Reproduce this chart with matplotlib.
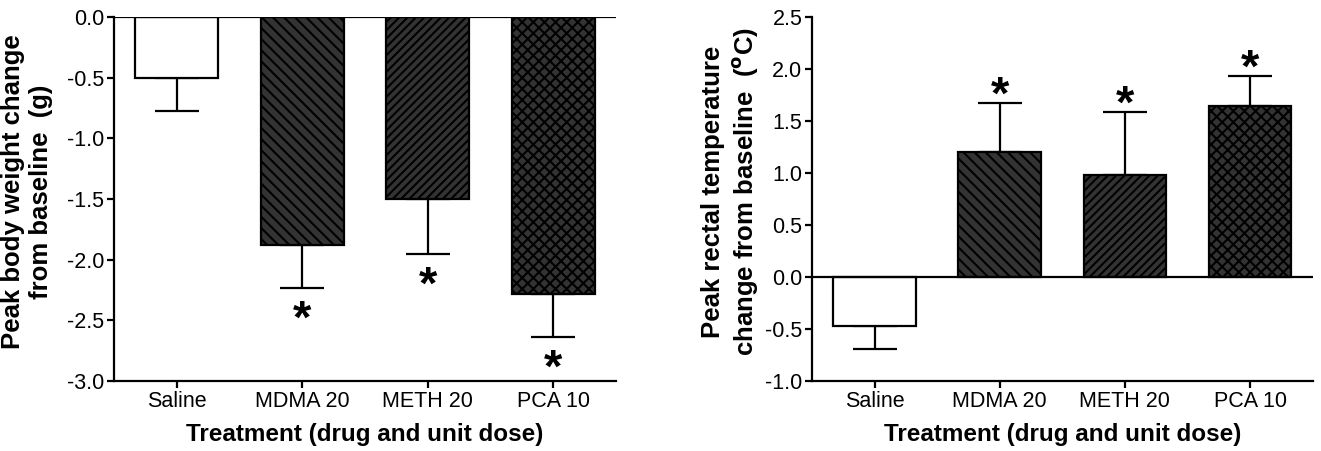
import matplotlib
matplotlib.use('Agg')
import matplotlib.pyplot as plt
import numpy as np

plt.rcParams['font.family'] = ['Liberation Sans', 'DejaVu Sans']
plt.rcParams['hatch.linewidth'] = 1.5
plt.rcParams['hatch.color'] = 'black'

groups = ['Saline', 'MDMA 20', 'METH 20', 'PCA 10']
hatches = ['', '\\\\\\', '////', 'xxx']
fills = ['white', '#333333', '#333333', '#333333']

# body weight change (g)
weight_mean = [-0.50, -1.88, -1.50, -2.28]
weight_sem = [0.27, 0.35, 0.45, 0.36]
weight_sig = [False, True, True, True]

# rectal temperature change (C)
temp_mean = [-0.47, 1.20, 0.98, 1.65]
temp_sem = [0.22, 0.47, 0.61, 0.28]
temp_sig = [False, True, True, True]

fig = plt.figure(figsize=(13.21, 4.51), dpi=100)
ax1 = fig.add_axes([0.0863, 0.155, 0.380, 0.807])
ax2 = fig.add_axes([0.6147, 0.155, 0.379, 0.807])

x = np.arange(len(groups))

def draw(ax, means, sems, sig, ylim, ylabel, star_off, label_x):
    for i in range(len(groups)):
        ax.bar(x[i], means[i], width=0.66, color=fills[i], hatch=hatches[i],
               edgecolor='black', linewidth=1.6, zorder=2)
        # one-sided error bar away from zero
        if means[i] > 0:
            yerr = [[0], [sems[i]]]
            end = means[i] + sems[i]
        else:
            yerr = [[sems[i]], [0]]
            end = means[i] - sems[i]
        ax.errorbar(x[i], means[i], yerr=yerr, fmt='none', ecolor='black',
                    elinewidth=1.6, capsize=16, capthick=1.6, zorder=1)
        if sig[i]:
            if means[i] > 0:
                ax.text(x[i], end + star_off[0], '*', ha='center', va='center',
                        fontsize=34, fontweight='bold')
            else:
                ax.text(x[i], end - star_off[1], '*', ha='center', va='center',
                        fontsize=34, fontweight='bold')
    ax.axhline(0, color='black', lw=1.6, zorder=3)
    ax.set_xlim(-0.5, 3.5)
    ax.set_ylim(*ylim)
    ticks = np.arange(ylim[0], ylim[1] + 0.01, 0.5)
    ax.set_yticks(ticks)
    ax.set_yticklabels(['%.1f' % v for v in ticks])
    ax.set_xticks(x)
    ax.set_xticklabels(groups)
    for s in ['top', 'right']:
        ax.spines[s].set_visible(False)
    for s in ['left', 'bottom']:
        ax.spines[s].set_linewidth(1.6)
    ax.tick_params(width=1.6, length=5, labelsize=15.5, pad=2)
    ax.set_xlabel('Treatment (drug and unit dose)', fontsize=17.5, fontweight='bold')
    ax.xaxis.set_label_coords(0.5, -0.115)
    ax.set_ylabel(ylabel, fontsize=18.5, fontweight='bold')
    ax.yaxis.set_label_coords(label_x, 0.52)

draw(ax1, weight_mean, weight_sem, weight_sig, (-3.0, 0.0),
     'Peak body weight change\nfrom baseline  (g)', (0.06, 0.27), -0.122)
draw(ax2, temp_mean, temp_sem, temp_sig, (-1.0, 2.5),
     'Peak rectal temperature\nchange from baseline  ($\\mathbf{^{o}}$C)', (0.06, 0.27), -0.104)

fig.savefig('out.png', dpi=100)
